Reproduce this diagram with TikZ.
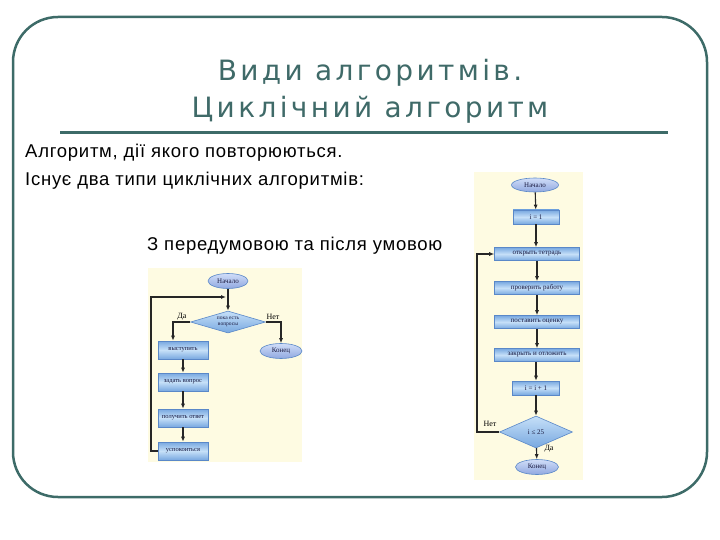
\documentclass[tikz,border=0pt]{standalone}
\usepackage{fontspec}
\setmainfont{Liberation Sans}[LetterSpace=4]
\newfontfamily\titlefont{DejaVu Sans}[LetterSpace=12]
\newfontfamily\chartfont{Liberation Serif}
\usetikzlibrary{shapes.geometric,arrows.meta}
\definecolor{frameteal}{HTML}{3D6B68}
\definecolor{titleteal}{HTML}{3F6A68}
\definecolor{cream}{HTML}{FEFBE2}
\definecolor{boxedge}{HTML}{5A88C8}
\definecolor{boxlight}{HTML}{C6E0F8}
\definecolor{boxdark}{HTML}{78A8E0}
\definecolor{ovallight}{HTML}{D0DDF8}
\definecolor{ovaldark}{HTML}{90A8E0}
\definecolor{charttext}{HTML}{1A1A40}
\tikzset{
  pbox/.style={rectangle, draw=boxedge, line width=0.6, top color=boxdark, bottom color=boxdark, middle color=boxlight,
    inner sep=0, font=\chartfont\fontsize{6.5}{7}\selectfont, text=charttext},
  rbox/.style={pbox, font=\chartfont\fontsize{7}{8}\selectfont},
  poval/.style={ellipse, draw=boxedge, line width=0.6, top color=ovallight, bottom color=ovaldark,
    inner sep=0, font=\chartfont\fontsize{7}{8}\selectfont, text=charttext},
  pdia/.style={diamond, draw=boxedge, line width=0.6, top color=boxlight, bottom color=boxdark, aspect=3.4,
    inner sep=0, font=\chartfont\fontsize{5.5}{6}\selectfont, text=charttext, align=center},
  arr/.style={-{Latex[length=5,width=4]}, line width=1.1, draw=black!85},
  lbl/.style={font=\chartfont\fontsize{8}{9}\selectfont, inner sep=0},
  bodytext/.style={font=\fontsize{18.5}{20}\selectfont, inner sep=0, anchor=base west}
}
\begin{document}
\begin{tikzpicture}[x=1pt,y=-1pt]
\useasboundingbox (0,0) rectangle (720,540);
% frame
\draw[frameteal, line width=2.5, rounded corners=45] (13,17) rectangle (707,497);
% title
\node[font=\titlefont\fontsize{28}{37}\selectfont, text=titleteal, align=center, inner sep=0] (title) at (370,91)
  {Види алгоритмів.\\Циклічний алгоритм};
\draw[frameteal, line width=3] (60,133) -- (668,133);
% body text
\node[bodytext] (t1) at (25,158) {Алгоритм, дії якого повторюються.};
\node[bodytext] (t2) at (25,186) {Існує два типи циклічних алгоритмів:};
\node[bodytext] (t3) at (147,250) {З передумовою та після умовою};

% ---------------- left flowchart ----------------
\fill[cream] (148,268) rectangle (302,462);
\node[poval, minimum width=40, minimum height=15] (lstart) at (228,281) {Начало};
\node[pdia, minimum width=75, minimum height=22] (ldia) at (228,322) {пока есть\\вопросы};
\node[pbox, minimum width=50, minimum height=18] (l1) at (183,350) {выступить};
\node[pbox, minimum width=50, minimum height=18] (l2) at (183,382) {задать вопрос};
\node[pbox, minimum width=50, minimum height=18] (l3) at (183,418) {получить ответ};
\node[pbox, minimum width=50, minimum height=18] (l4) at (183,451) {успокоиться};
\node[poval, minimum width=42, minimum height=15] (lend) at (281,351) {Конец};
\coordinate (ljoin) at (228,297);
\coordinate (lloopb) at (151,451);
\coordinate (lloopt) at (151,297);
\coordinate (lda) at (173,322);
\draw[arr] (lstart) -- (ldia);
\draw[arr] (l4.west) -- (lloopb) -- (lloopt) -- ([xshift=-2]ljoin);
\draw[arr] (ldia.west) -- (lda) -- (lda |- l1.north);
\draw[arr] (ldia.east) -| (lend.north);
\draw[arr] (l1) -- (l2);
\draw[arr] (l2) -- (l3);
\draw[arr] (l3) -- (l4);
\node[lbl] (lyes) at (182,317) {Да};
\node[lbl] (lno) at (273,317) {Нет};

% ---------------- right flowchart ----------------
\fill[cream] (474,172) rectangle (583,480);
\node[poval, minimum width=47, minimum height=14] (rstart) at (535,185) {Начало};
\node[rbox, minimum width=46, minimum height=14] (r1) at (536,217) {i = 1};
\node[rbox, minimum width=85, minimum height=13] (r2) at (537,254) {открыть тетрадь};
\node[rbox, minimum width=85, minimum height=13] (r3) at (537,288) {проверить работу};
\node[rbox, minimum width=85, minimum height=13] (r4) at (537,322) {поставить оценку};
\node[rbox, minimum width=85, minimum height=13] (r5) at (537,355) {закрыть и отложить};
\node[rbox, minimum width=47, minimum height=14] (r6) at (536,388) {i = i + 1};
\node[pdia, minimum width=73, minimum height=32, font=\chartfont\fontsize{7}{8}\selectfont] (rdia) at (536,432) {i ≤ 25};
\node[poval, minimum width=43, minimum height=15] (rend) at (537,467) {Конец};
\coordinate (rloopb) at (477,432);
\coordinate (rloopt) at (477,254);
\draw[arr] (rstart) -- (r1);
\draw[arr] (r1) -- (r1 |- r2.north);
\draw[arr] (r2) -- (r3);
\draw[arr] (r3) -- (r4);
\draw[arr] (r4) -- (r5);
\draw[arr] (r5.south -| r6) -- (r6);
\draw[arr] (r6) -- (rdia);
\draw[arr] (rdia) -- (rend);
\draw[arr] (rdia.west) -- (rloopb) -- (rloopt) -- (r2.west);
\node[lbl] (rno) at (490,424) {Нет};
\node[lbl] (ryes) at (549,449) {Да};
\end{tikzpicture}
\end{document}
